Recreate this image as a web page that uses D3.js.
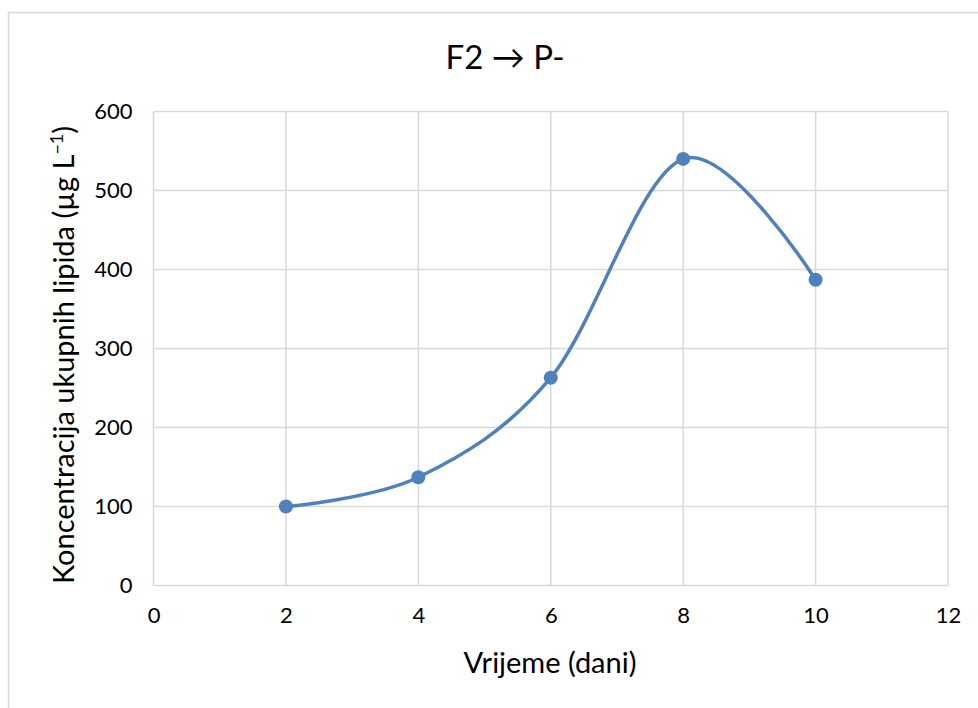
<!DOCTYPE html>
<html><head><meta charset="utf-8">
<script src="https://cdn.jsdelivr.net/npm/d3@7"></script>
<style>
html,body{margin:0;padding:0;background:#fff;}
svg{display:block;font-family:Lato,"Open Sans",sans-serif;}
</style></head>
<body>
<svg id="chart" width="978" height="708"></svg>
<script>
const days = [2, 4, 6, 8, 10];
const lipids = [100, 137, 263, 540, 387];
const xTicks = [0, 2, 4, 6, 8, 10, 12];
const yTicks = [0, 100, 200, 300, 400, 500, 600];
const titleText = "F2 \u2192 P-";
const xTitle = "Vrijeme (dani)";
const yTitle = "Koncentracija ukupnih lipida (\u00b5g L";
const ySup = "\u22121";

const svg = d3.select("#chart");
const m = {left: 153.5, right: 948, top: 111.5, bottom: 585.5};
const x = d3.scaleLinear().domain([0, 12]).range([m.left, m.right]);
const y = d3.scaleLinear().domain([0, 600]).range([m.bottom, m.top]);
const grid = "#d9d9d9";

// chart frame
svg.append("path").attr("d", "M8.5,708 V12.5 H978").attr("fill", "none").attr("stroke", grid).attr("stroke-width", 1.5);

// gridlines
svg.append("g").selectAll("line").data(yTicks).join("line")
  .attr("x1", m.left).attr("x2", m.right)
  .attr("y1", d => y(d)).attr("y2", d => y(d))
  .attr("stroke", grid).attr("stroke-width", 1.5);
svg.append("g").selectAll("line").data(xTicks).join("line")
  .attr("y1", m.top).attr("y2", m.bottom)
  .attr("x1", d => x(d)).attr("x2", d => x(d))
  .attr("stroke", grid).attr("stroke-width", 1.5);

// axes labels
const yAxis = d3.axisLeft(y).tickValues(yTicks).tickSize(0).tickPadding(21);
const gy = svg.append("g").attr("transform", `translate(${m.left},0)`).call(yAxis);
gy.select(".domain").remove();
gy.selectAll("text").attr("font-size", 22).attr("fill", "#000").attr("font-family", "Lato");

const xAxis = d3.axisBottom(x).tickValues(xTicks).tickSize(0).tickPadding(22);
const gx = svg.append("g").attr("transform", `translate(0,${m.bottom})`).call(xAxis);
gx.select(".domain").remove();
gx.selectAll("text").attr("font-size", 22).attr("fill", "#000").attr("font-family", "Lato");

// series
const line = d3.line().x((d, i) => x(days[i])).y(d => y(d)).curve(d3.curveCardinal.tension(0));
svg.append("path").datum(lipids).attr("d", line)
  .attr("fill", "none").attr("stroke", "#4f81bd").attr("stroke-width", 3.5).attr("stroke-linejoin", "round");
svg.append("g").selectAll("circle").data(lipids).join("circle")
  .attr("cx", (d, i) => x(days[i])).attr("cy", d => y(d)).attr("r", 7)
  .attr("fill", "#4f81bd");

// titles
svg.append("text").attr("x", 505).attr("y", 69).attr("text-anchor", "middle")
  .attr("font-size", 33).attr("fill", "#000").text(titleText);
svg.append("text").attr("x", 550).attr("y", 673).attr("text-anchor", "middle")
  .attr("font-size", 29).attr("fill", "#000").text(xTitle);
const yt = svg.append("text").attr("transform", "translate(74,355) rotate(-90)")
  .attr("text-anchor", "middle").attr("font-size", 29).attr("fill", "#000");
yt.append("tspan").text(yTitle);
yt.append("tspan").attr("font-size", 18).attr("dy", -11).text(ySup);
yt.append("tspan").attr("dy", 11).text(")");
</script>
</body></html>
